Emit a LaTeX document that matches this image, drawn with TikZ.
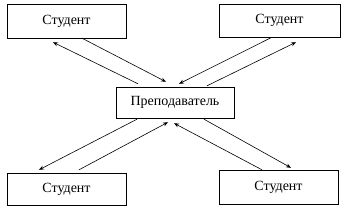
\documentclass[tikz,border=0pt]{standalone}
\usepackage{fontspec}
\setmainfont{Liberation Serif}
\usetikzlibrary{arrows.meta,calc}

\begin{document}
\begin{tikzpicture}[x=1pt,y=-1pt,
  box/.style={draw,thin,inner sep=0pt,font=\fontsize{14}{16}\selectfont},
  arr/.style={-{Stealth[length=5pt,width=4pt]},semithick}]
  \useasboundingbox (0,0) rectangle (348,211);
  %% boxes
  \node[box,minimum width=119pt,minimum height=34pt] (tl) at (66.5,21)  {Студент};
  \node[box,minimum width=121pt,minimum height=33pt] (tr) at (279.5,20.5) {Студент};
  \node[box,minimum width=118pt,minimum height=31pt] (c)  at (175,102.5) {Преподаватель};
  \node[box,minimum width=119pt,minimum height=32pt] (bl) at (66.5,189) {Студент};
  \node[box,minimum width=119pt,minimum height=34pt] (br) at (278.5,187) {Студент};
  %% top left
  \draw[arr] ($(tl.south)+(15.5,0)$) -- ($(c.north)+(-9,-5)$);
  \draw[arr] ($(c.north)+(-37,-3)$) -- ($(tl.south)+(-13.5,4)$);
  %% top right
  \draw[arr] ($(tr.south)+(-8.5,0.5)$) -- ($(c.north)+(4,-3)$);
  \draw[arr] ($(c.north)+(32,-1)$) -- ($(tr.south)+(16.5,5)$);
  %% bottom left
  \draw[arr] ($(c.south)+(-38,1)$) -- ($(bl.north)+(-27.5,-3)$);
  \draw[arr] ($(bl.north)+(12.5,-3)$) -- ($(c.south)+(-7,4)$);
  %% bottom right
  \draw[arr] ($(c.south)+(29,1)$) -- ($(br.north)+(12.5,-2)$);
  \draw[arr] ($(br.north)+(-16.5,0)$) -- ($(c.south)+(-1,5)$);
\end{tikzpicture}
\end{document}
